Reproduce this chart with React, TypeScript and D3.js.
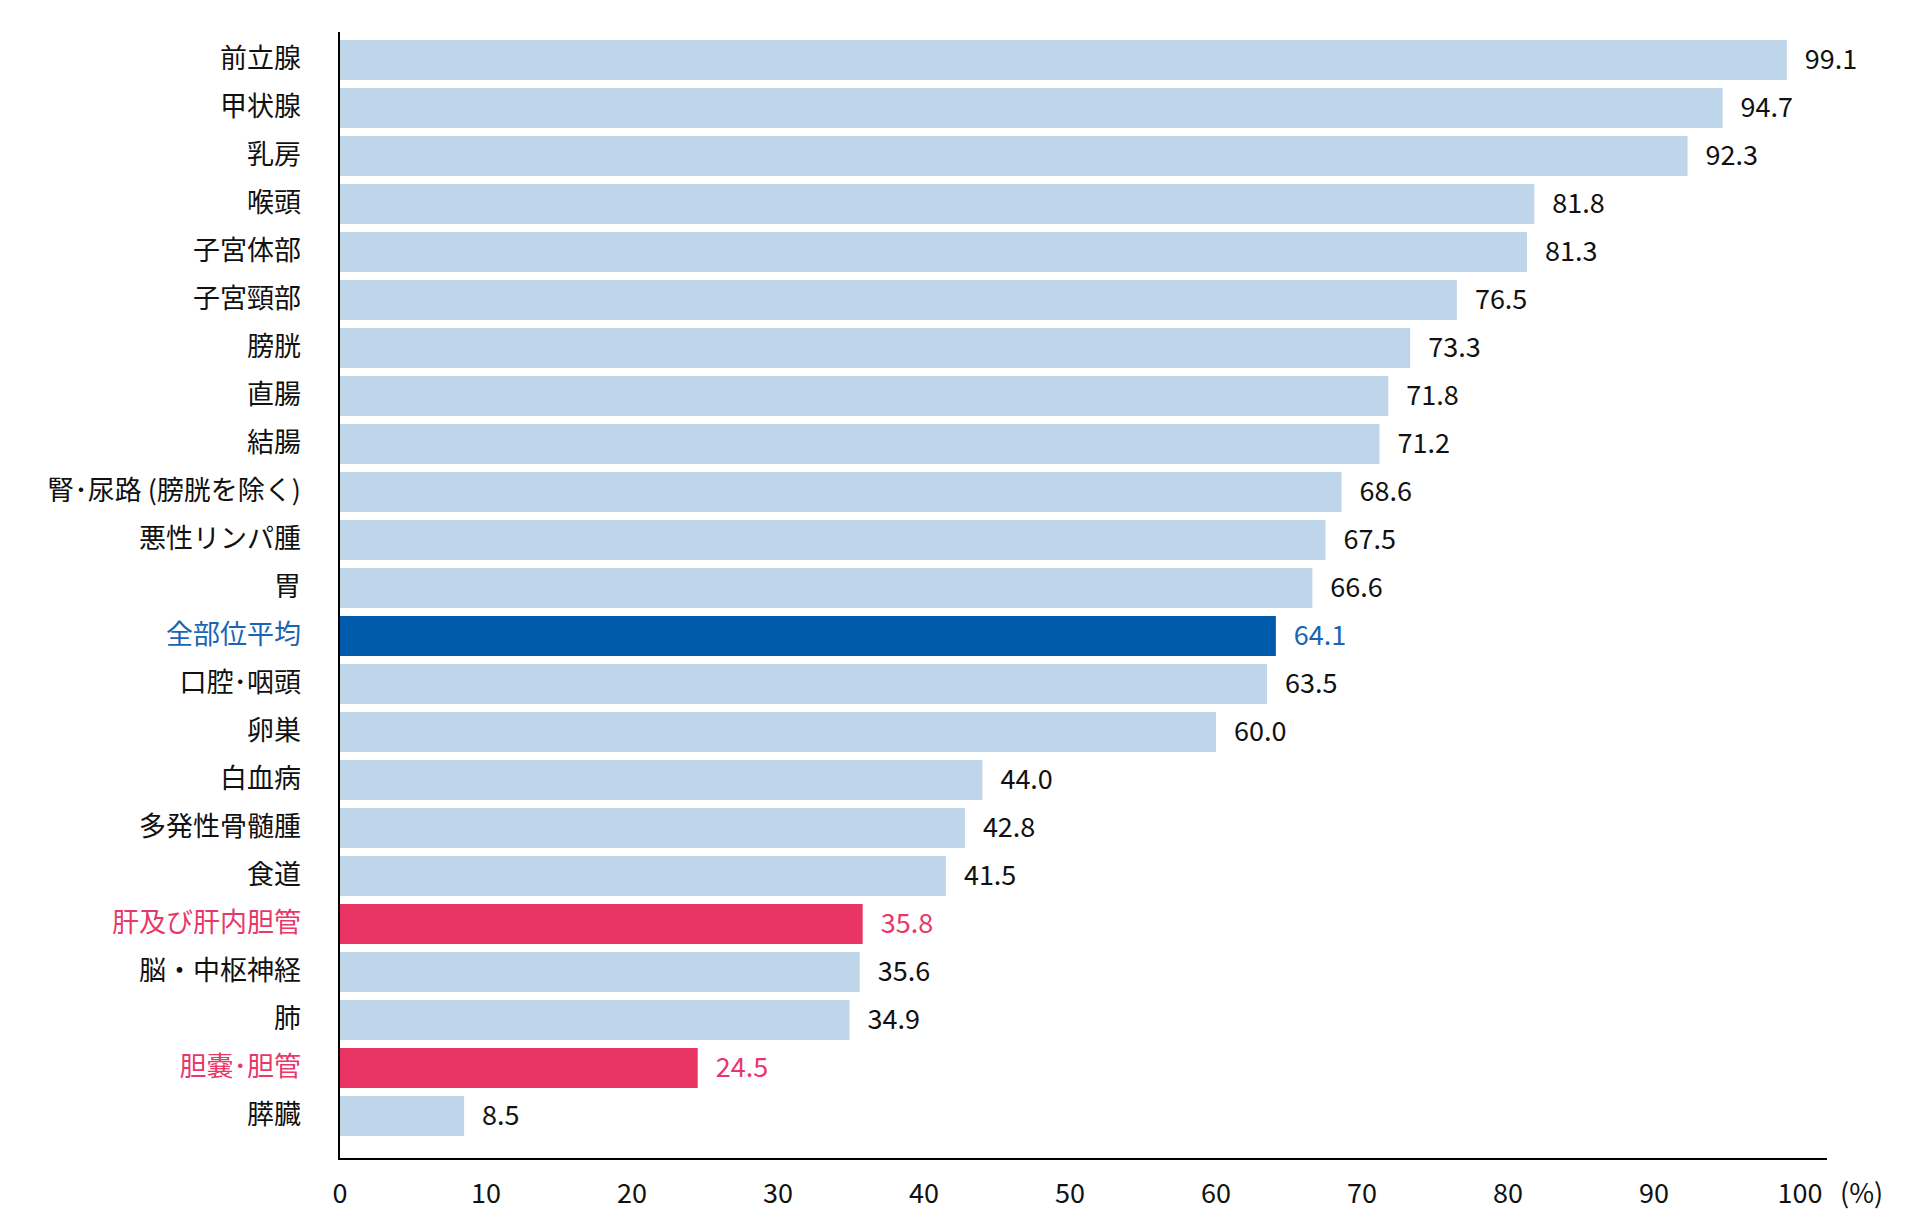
import React from "react";
import * as d3 from "d3";

const categories = [
  "前立腺", "甲状腺", "乳房", "喉頭", "子宮体部", "子宮頸部", "膀胱", "直腸", "結腸",
  "腎･尿路 (膀胱を除く)", "悪性リンパ腫", "胃", "全部位平均", "口腔･咽頭", "卵巣",
  "白血病", "多発性骨髄腫", "食道", "肝及び肝内胆管", "脳・中枢神経", "肺", "胆嚢･胆管", "膵臓",
];
const values = [
  99.1, 94.7, 92.3, 81.8, 81.3, 76.5, 73.3, 71.8, 71.2, 68.6, 67.5, 66.6, 64.1, 63.5, 60.0,
  44.0, 42.8, 41.5, 35.8, 35.6, 34.9, 24.5, 8.5,
];
const highlightAverage = ["全部位平均"];
const highlightPink = ["肝及び肝内胆管", "胆嚢･胆管"];
const xTicks = [0, 10, 20, 30, 40, 50, 60, 70, 80, 90, 100];
const unitLabel = "(%)";

const FONT = "'Noto Sans CJK JP', 'Noto Sans', sans-serif";
const LIGHT = "#BFD6EA";
const DARK = "#005BAC";
const PINK = "#E83563";

export default function App() {
  const x = d3.scaleLinear().domain([0, 100]).range([340, 1800]);
  const y = d3
    .scaleBand<string>()
    .domain(categories)
    .range([36, 1140])
    .paddingInner(1 / 6)
    .paddingOuter(1 / 12);

  const fillFor = (c: string) =>
    highlightAverage.includes(c) ? DARK : highlightPink.includes(c) ? PINK : LIGHT;
  const textFor = (c: string) =>
    highlightAverage.includes(c) ? "#1A64B4" : highlightPink.includes(c) ? "#E8386A" : "#111";

  const axisY = 1159;
  const axisRight = 1827;

  return (
    <svg width={1920} height={1220} style={{ display: "block", position: "absolute", left: 0, top: 0 }} fontFamily={FONT}>
      <rect width={1920} height={1220} fill="#fff" />
      {categories.map((c, i) => {
        const yy = y(c)!;
        const bw = y.bandwidth();
        const v = values[i];
        return (
          <g key={c}>
            <rect x={x(0)} y={yy} width={x(v) - x(0)} height={bw} fill={fillFor(c)} />
            <text
              x={301}
              y={yy + bw / 2}
              dy="0.3em"
              textAnchor="end"
              fontSize={27}
              fill={textFor(c)}
            >
              {c}
            </text>
            <text
              x={x(v) + 18}
              y={yy + bw / 2}
              dy="0.33em"
              fontSize={27}
              fill={textFor(c)}
            >
              {v.toFixed(1)}
            </text>
          </g>
        );
      })}
      <line x1={339} x2={339} y1={32} y2={axisY + 1} stroke="#000" strokeWidth={2} />
      <line x1={338} x2={axisRight} y1={axisY} y2={axisY} stroke="#000" strokeWidth={2} />
      {xTicks.map((t) => (
        <text key={t} x={x(t)} y={1194} dy="0.35em" textAnchor="middle" fontSize={27} fill="#111">
          {t}
        </text>
      ))}
      <text x={1840} y={1194} dy="0.35em" fontSize={27} fill="#111">
        {unitLabel}
      </text>
    </svg>
  );
}
